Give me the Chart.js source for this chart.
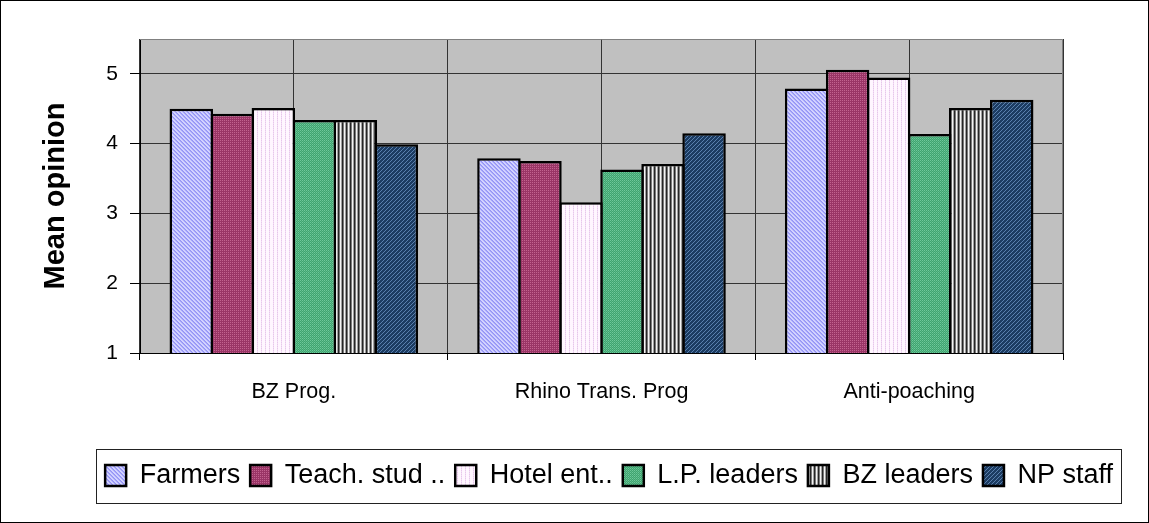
<!DOCTYPE html>
<html>
<head>
<meta charset="utf-8">
<title>Mean opinion by programme</title>
<script src="https://cdn.jsdelivr.net/npm/chart.js@4.4.1/dist/chart.umd.min.js"></script>
<style>
  html, body { margin: 0; padding: 0; background: #fff; }
  canvas { display: block; }
</style>
</head>
<body>
<canvas id="c" width="1149" height="523"></canvas>
<script>
// Programmes on the x axis
const categories = ['BZ Prog.', 'Rhino Trans. Prog', 'Anti-poaching'];
// Respondent groups (one series each)
const seriesNames = ['Farmers', 'Teach. stud ..', 'Hotel ent..', 'L.P. leaders', 'BZ leaders', 'NP staff'];
// Mean opinion per programme for each group
const farmers   = [4.50, 3.79, 4.79];
const teachStud = [4.43, 3.75, 5.06];
const hotelEnt  = [4.51, 3.16, 4.95];
const lpLeaders = [4.34, 3.63, 4.14];
const bzLeaders = [4.34, 3.71, 4.51];
const npStaff   = [3.99, 4.15, 4.63];
// Value axis ticks
const yTicks = [1, 2, 3, 4, 5];
const yMin = 1;
const yMax = 5.5;

const FONT = "'Liberation Sans', Arial, Helvetica, sans-serif";
Chart.defaults.font.family = FONT;
Chart.defaults.color = '#000';

const canvas = document.getElementById('c');
const ctx = canvas.getContext('2d');

// Small repeating fill textures for the bars
function texture(w, h, paint) {
  const t = document.createElement('canvas');
  t.width = w; t.height = h;
  const g = t.getContext('2d');
  paint(g);
  return ctx.createPattern(t, 'repeat');
}
function px(g, x, y, c) { g.fillStyle = c; g.fillRect(x, y, 1, 1); }

const fills = [
  // lavender diagonal
  texture(4, 4, g => {
    g.fillStyle = '#D2D2FF'; g.fillRect(0, 0, 4, 4);
    for (let i = 0; i < 4; i++) { px(g, i, i % 4, '#9494F4'); px(g, i, (i + 1) % 4, '#A6A6FA'); }
  }),
  // plum fine grid
  texture(2, 2, g => {
    g.fillStyle = '#9A3566'; g.fillRect(0, 0, 2, 2);
    px(g, 0, 0, '#C2628F');
  }),
  // pale pink dotted stripes
  texture(4, 2, g => {
    g.fillStyle = '#FFF6FF'; g.fillRect(0, 0, 4, 2);
    px(g, 1, 0, '#E6C6EC'); px(g, 1, 1, '#F2DEF2');
  }),
  // green checker
  texture(2, 2, g => {
    g.fillStyle = '#3FA371'; g.fillRect(0, 0, 2, 2);
    px(g, 0, 0, '#6FC99A'); px(g, 1, 1, '#5AB986');
  }),
  // grey vertical stripes
  texture(4, 1, g => {
    px(g, 0, 0, '#F4F4F4'); px(g, 1, 0, '#A0A0A0'); px(g, 2, 0, '#262626'); px(g, 3, 0, '#7A7A7A');
  }),
  // navy diagonal
  texture(4, 4, g => {
    g.fillStyle = '#1C3C62'; g.fillRect(0, 0, 4, 4);
    for (let i = 0; i < 4; i++) { px(g, i, (3 - i) % 4, '#5A80AE'); }
  })
];

const seriesValues = [farmers, teachStud, hotelEnt, lpLeaders, bzLeaders, npStaff];

const datasets = seriesNames.map((name, i) => ({
  label: name,
  data: seriesValues[i],
  backgroundColor: fills[i],
  borderColor: '#000',
  borderWidth: 2.5,
  borderSkipped: false,
  barPercentage: 1.06,
  categoryPercentage: 0.8
}));

// Layout constants for the frame
const PLOT_LEFT = 140;
const PLOT_BOTTOM = 353;
const PAD_RIGHT = 26;
const RIGHT_GAP = 60;
const PAD_BOTTOM = 24;

const framePlugin = {
  id: 'frame',
  beforeDraw(chart) {
    const c = chart.ctx;
    const a = chart.chartArea;
    c.save();
    c.fillStyle = '#fff';
    c.fillRect(0, 0, chart.width, chart.height);
    c.fillStyle = '#C0C0C0';
    c.fillRect(a.left, a.top, a.right - a.left, a.bottom - a.top);
    c.restore();
  },
  afterDraw(chart) {
    const c = chart.ctx;
    const a = chart.chartArea;
    c.save();
    // plot area outline (top and right)
    c.strokeStyle = '#808080';
    c.lineWidth = 1;
    c.beginPath();
    c.moveTo(a.left, a.top + 0.5);
    c.lineTo(a.right - 0.5, a.top + 0.5);
    c.lineTo(a.right - 0.5, a.bottom);
    c.stroke();
    // legend frame
    const boxes = chart.legend.legendHitBoxes;
    if (boxes && boxes.length) {
      const l = Math.min(...boxes.map(b => b.left)) - 9;
      const r = Math.max(...boxes.map(b => b.left + b.width)) + 8;
      const t = Math.min(...boxes.map(b => b.top)) - 13.5;
      const b = Math.max(...boxes.map(b => b.top + b.height)) + 13;
      c.strokeStyle = '#222';
      c.lineWidth = 1;
      c.strokeRect(Math.round(l) + 0.5, Math.round(t) + 0.5, Math.round(r - l), Math.round(b - t));
    }
    // outer chart border
    c.strokeStyle = '#000';
    c.lineWidth = 1;
    c.strokeRect(0.5, 0.5, chart.width - 1, chart.height - 1);
    c.restore();
  }
};

new Chart(ctx, {
  type: 'bar',
  data: { labels: categories, datasets },
  options: {
    responsive: false,
    animation: false,
    layout: { padding: { top: 39, left: 0, right: PAD_RIGHT, bottom: PAD_BOTTOM } },
    plugins: {
      legend: {
        position: 'bottom',
        align: 'end',
        labels: {
          boxWidth: 21,
          boxHeight: 21,
          padding: 10,
          color: '#000',
          font: { size: 27, family: FONT }
        }
      },
      tooltip: { enabled: false }
    },
    scales: {
      x: {
        type: 'category',
        position: 'bottom',
        offset: true,
        grid: { offset: true, color: '#333', lineWidth: 1, drawTicks: true, tickLength: 7, tickColor: '#000' },
        border: { display: true, color: '#000', width: 1 },
        ticks: { color: '#000', padding: 19, font: { size: 21.5, family: FONT }, maxRotation: 0 },
        afterFit(s) {
          const lh = s.chart.legend ? s.chart.legend.height : 0;
          s.height = s.chart.height - PAD_BOTTOM - lh - PLOT_BOTTOM;
        }
      },
      xc: {
        type: 'category',
        labels: categories,
        position: 'bottom',
        offset: true,
        grid: { offset: false, color: '#333', lineWidth: 1, drawTicks: false },
        border: { display: false },
        ticks: { display: false },
        afterFit(s) { s.height = 0; }
      },
      y: {
        type: 'linear',
        position: 'left',
        min: yMin,
        max: yMax,
        afterBuildTicks(s) { s.ticks = yTicks.map(v => ({ value: v })); },
        afterFit(s) { s.width = PLOT_LEFT; },
        grid: { color: '#333', lineWidth: 1, drawTicks: true, tickLength: 10, tickColor: '#000' },
        border: { display: true, color: '#000', width: 1 },
        ticks: { color: '#000', padding: 12, font: { size: 21, family: FONT } },
        title: {
          display: true,
          text: 'Mean opinion',
          color: '#000',
          font: { size: 29, weight: 'bold', family: FONT },
          padding: { top: 39, bottom: 0 }
        }
      },
      yr: {
        type: 'linear',
        position: 'right',
        display: true,
        grid: { display: false },
        border: { display: false },
        ticks: { display: false },
        afterFit(s) { s.width = RIGHT_GAP; }
      }
    }
  },
  plugins: [framePlugin]
});
</script>
</body>
</html>
